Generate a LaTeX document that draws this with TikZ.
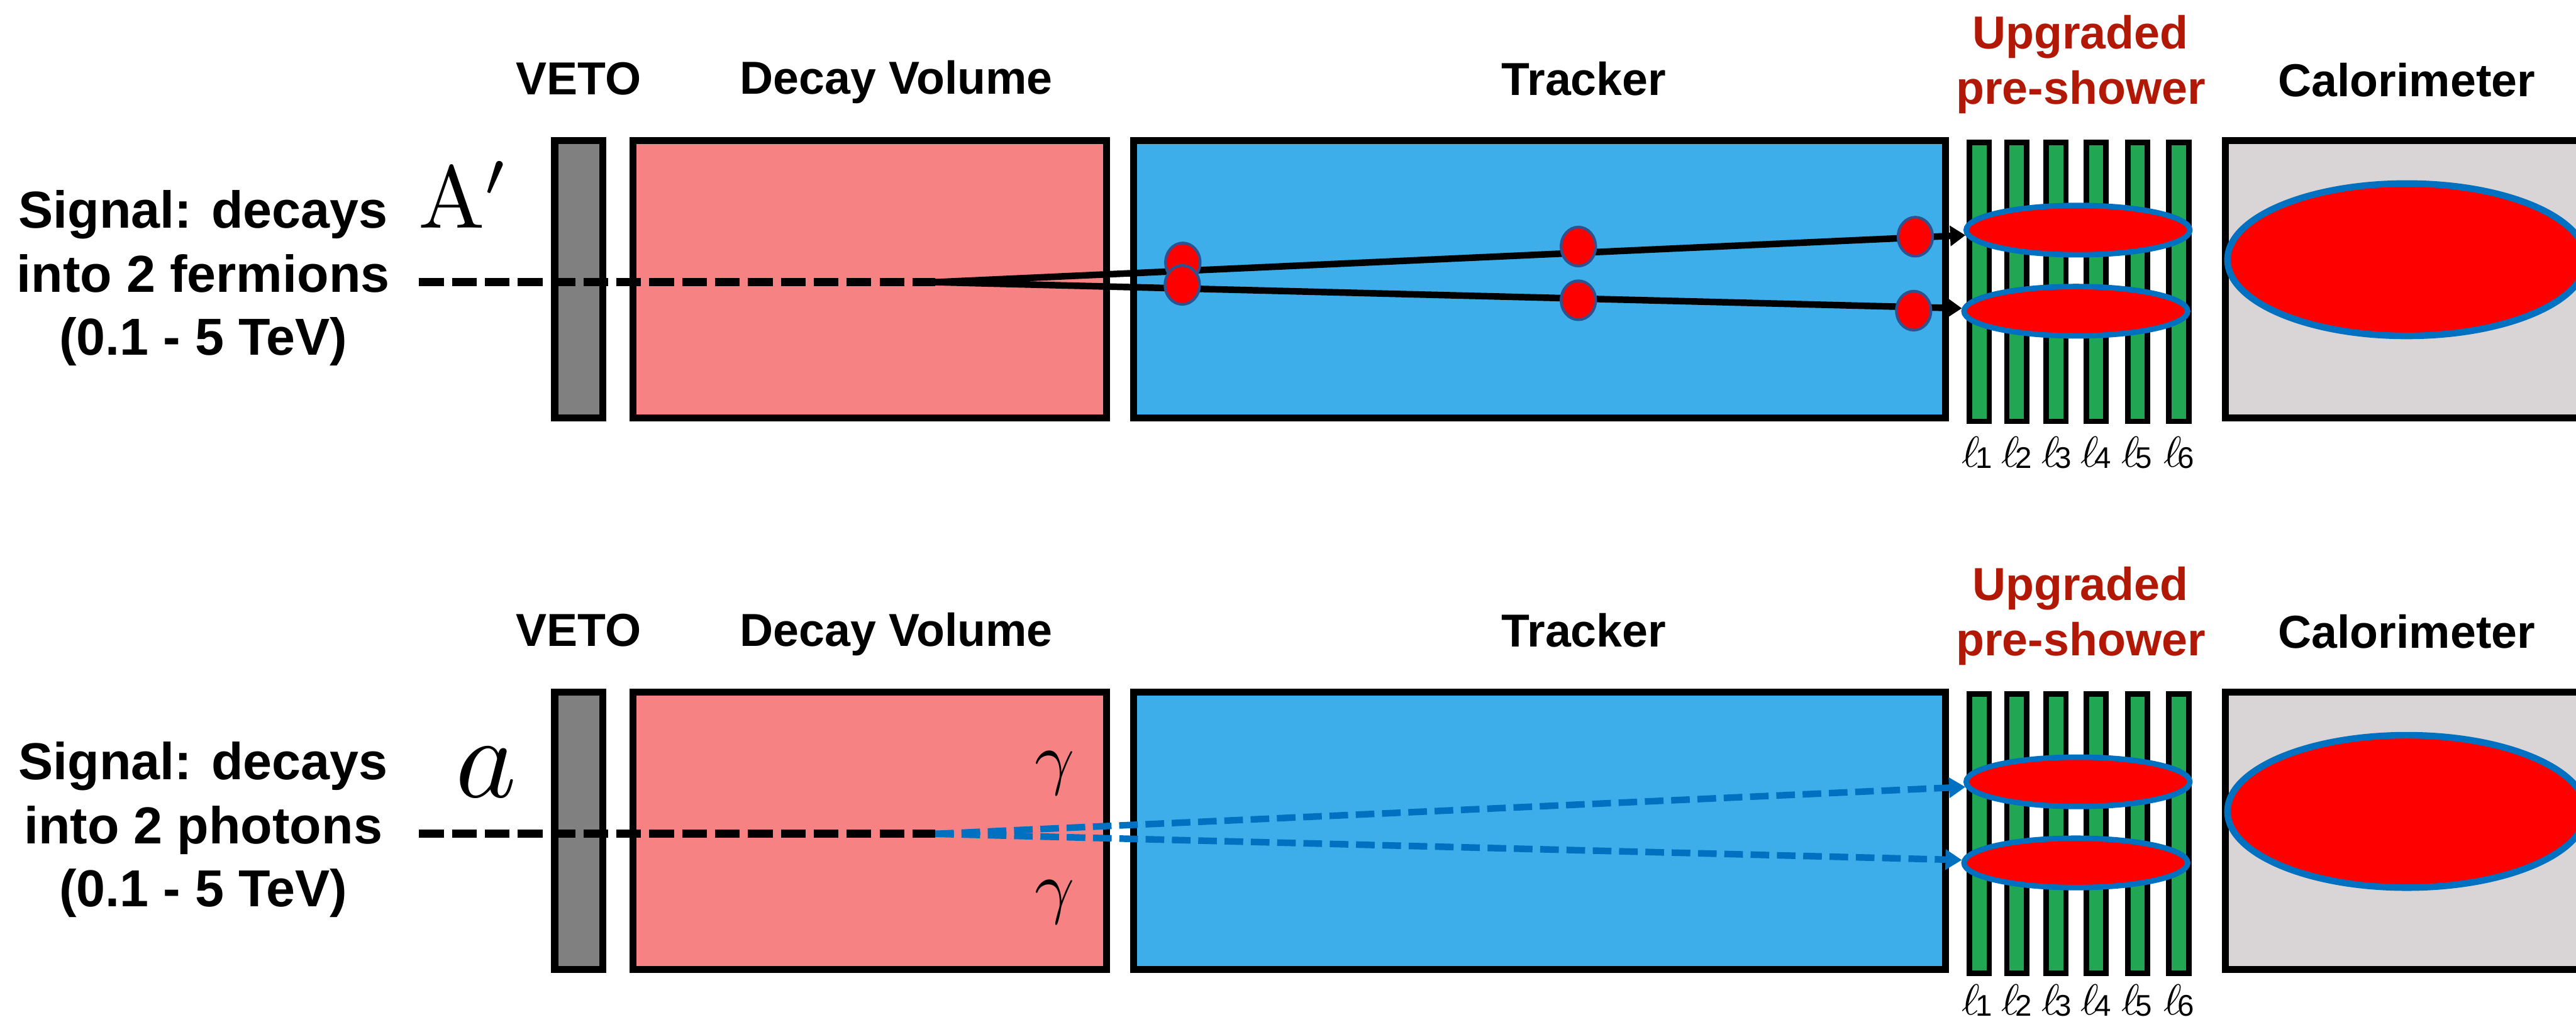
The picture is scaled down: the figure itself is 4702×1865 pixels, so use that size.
\documentclass[tikz,border=0pt]{standalone}
\usepackage{fontspec}
\newfontfamily\hv{Liberation Sans}
\usetikzlibrary{shapes.geometric,arrows.meta}
\definecolor{vetogray}{RGB}{128,128,128}
\definecolor{decaypink}{RGB}{247,130,132}
\definecolor{trackblue}{RGB}{61,174,233}
\definecolor{calgray}{RGB}{217,213,214}
\definecolor{layergreen}{RGB}{33,166,84}
\definecolor{hitred}{RGB}{255,0,0}
\definecolor{rimblue}{RGB}{0,112,192}
\definecolor{dotrim}{RGB}{47,82,143}
\definecolor{titlered}{RGB}{178,24,6}
\begin{document}
\begin{tikzpicture}[x=0.01cm,y=-0.01cm,
  detbox/.style={draw=black,line width=0.13cm,inner sep=0,outer sep=0,minimum height=5.06cm},
  layerbox/.style={draw=black,fill=layergreen,line width=0.1cm,inner sep=0,outer sep=0,minimum width=0.36cm,minimum height=5.09cm},
  hit/.style={ellipse,draw=dotrim,fill=hitred,line width=0.05cm,inner sep=0,minimum width=0.63cm,minimum height=0.71cm},
  shower/.style={ellipse,draw=rimblue,fill=hitred,line width=0.1cm,inner sep=0,minimum width=4.08cm,minimum height=0.9cm},
  calshower/.style={ellipse,draw=rimblue,fill=hitred,line width=0.12cm,inner sep=0,minimum width=6.54cm,minimum height=2.78cm},
  header/.style={font=\hv\bfseries\fontsize{24}{28}\selectfont,anchor=base,inner sep=0},
  sigtext/.style={font=\hv\bfseries\fontsize{27}{33}\selectfont,anchor=base,inner sep=0},
  parent/.style={draw=black,line width=0.15cm,dash pattern=on 0.45cm off 0.15cm},
  fermion/.style={draw=black,line width=0.12cm,-{Triangle[length=0.28cm,width=0.36cm]}},
  photon/.style={draw=rimblue,line width=0.12cm,dash pattern=on 0.34cm off 0.14cm,-{Triangle[length=0.3cm,width=0.36cm]}},
  lay/.style={anchor=base,inner sep=0},
  mathlabel/.style={anchor=base,inner sep=0,font=\fontsize{10}{12}\selectfont}
]
\clip (0,0) rectangle (4702,1865);
\fill[white] (0,0) rectangle (4702,1865);

\foreach \pn/\dy/\ly in {t/0/852,b/1007/845}{
 \begin{scope}[shift={(0,\dy)}]
  % headers
  \node[header] (hveto\pn) at (1056,173) {VETO};
  \node[header] (hdecay\pn) at (1636,172) {Decay Volume};
  \node[header] (htrack\pn) at (2891,174) {Tracker};
  \node[header,text=titlered] (hup\pn) at (3797,89) {Upgraded};
  \node[header,text=titlered] (hpre\pn) at (3798,190) {pre-shower};
  \node[header] (hcal\pn) at (4393,176) {Calorimeter};
  % signal text
  \node[sigtext] (siga\pn) at (371,416) {Signal: decays};
  \node[sigtext] (sigc\pn) at (371,648) {(0.1 - 5 TeV)};
  % detector boxes
  \node[detbox,fill=vetogray,minimum width=0.88cm] (veto\pn) at (1056.5,509.5) {};
  \node[detbox,fill=decaypink,minimum width=8.64cm] (decay\pn) at (1587.5,509.5) {};
  \node[detbox,fill=trackblue,minimum width=14.81cm] (tracker\pn) at (2810,509.5) {};
  \node[detbox,fill=calgray,line width=0.12cm,minimum width=8.32cm] (calo\pn) at (4478,509.5) {};
  \foreach \i/\lx in {1/3613,2/3681,3/3753,4/3826,5/3902,6/3977}{
    \node[layerbox] (layer\pn\i) at (\lx,514.5) {};
  }
  \foreach \i/\lx in {1/3609,2/3681,3/3754,4/3826,5/3900,6/3977}{
    \node[lay] (ell\pn\i) at (\lx,\ly) {\scalebox{2.25}{$\ell$}\kern-0.08cm\raisebox{-0.03cm}{\hv\fontsize{15.5}{18}\selectfont\i}};
  }
  % showers
  \node[shower] (showerA\pn) at (3793,420) {};
  \node[shower] (showerB\pn) at (3789,568) {};
  \node[calshower] (calshower\pn) at (4393,474) {};
  % incoming particle
  \coordinate (src\pn) at (765,515);
  \coordinate (vtx\pn) at (1707,515);
  \draw[parent] (src\pn) -- (vtx\pn);
 \end{scope}
}

% top panel: dark photon to 2 fermions
\node[sigtext] (sigbt) at (371,533) {into 2 fermions};
\node[mathlabel] (Aprime) at (847,416) {\scalebox{4.6}{$\mathrm{A}'$}};
\draw[fermion] (vtxt) -- (showerAt);
\draw[fermion] (vtxt) -- (showerBt);
\node[hit] (hitA1) at (2159,479) {};
\node[hit] (hitB1) at (2158,520) {};
\node[hit] (hitA2) at (2881,450) {};
\node[hit] (hitB2) at (2881,548) {};
\node[hit] (hitA3) at (3496,432) {};
\node[hit] (hitB3) at (3493,567) {};

% bottom panel: ALP to 2 photons
\node[sigtext] (sigbb) at (371,1540) {into 2 photons};
\node[mathlabel] (alp) at (888,1455) {\scalebox{6}{$a$}};
\node[mathlabel] (gamA) at (1925,1426) {\scalebox{3.6}{$\gamma$}};
\node[mathlabel] (gamB) at (1925,1662) {\scalebox{3.6}{$\gamma$}};
\draw[photon] (vtxb) -- (showerAb);
\draw[photon] (vtxb) -- (showerBb);
\end{tikzpicture}
\end{document}
